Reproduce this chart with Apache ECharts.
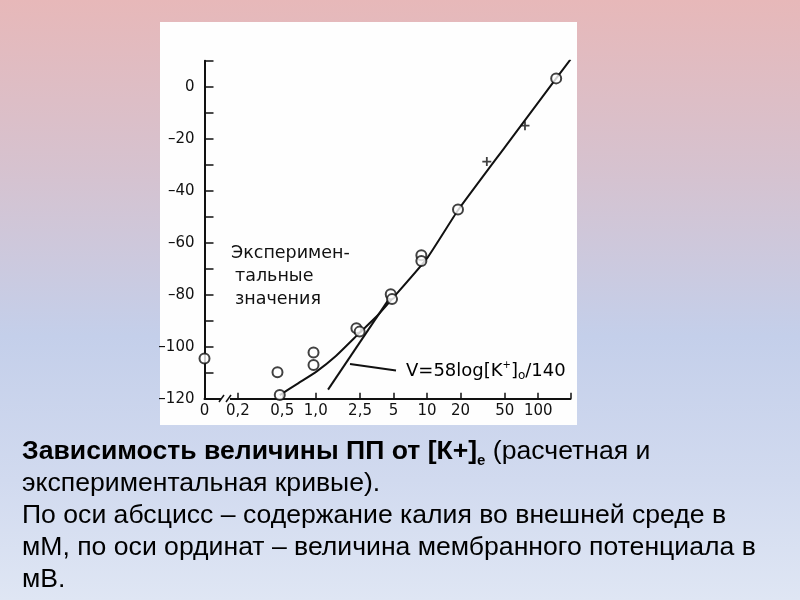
<!DOCTYPE html>
<html><head><meta charset="utf-8">
<script src="https://cdn.jsdelivr.net/npm/echarts@6/dist/echarts.min.js"></script>
<style>
html,body{margin:0;padding:0;width:800px;height:600px;overflow:hidden;}
body{background:linear-gradient(to bottom,#e7b8b9 0%,#d6c2cf 28%,#c4cfea 56%,#d1daef 80%,#dfe6f4 100%);}
#panel{position:absolute;left:160px;top:22px;width:417px;height:403px;background:#fefefe;}
#chart{position:absolute;left:0;top:0;width:800px;height:600px;}
</style></head>
<body><div id="panel"></div><div id="chart"></div>
<script>
// ---- data (concentration in mM, potential in mV) ----
const xTickConc   = [0, 0.2, 0.5, 1.0, 2.5, 5, 10, 20, 50, 100];
const xTickLabels = ['0', '0,2', '0,5', '1,0', '2,5', '5', '10', '20', '50', '100'];
const yTickLabelStep = 20;

const circleConc = [0, 0.453, 0.475, 0.955, 0.955, 2.32, 2.48, 4.72, 4.85, 8.9, 8.9, 19, 145];
const circleMv   = [-104.5, -109.8, -118.6, -102.2, -107, -92.9, -94.2, -79.8, -81.7, -64.8, -67, -47.2, 3.2];

const crossConc = [34.5, 76];
const crossMv   = [-28.8, -15];

const expCurveConc = [0.475, 0.7, 1.0, 1.5, 2.5, 3.5, 5, 10, 19, 50, 145, 195];
const expCurveMv   = [-118.6, -114, -109.8, -103.8, -94.5, -88.5, -81, -66, -47.5, -23.3, 3.2, 10.5];

const theoConc = [1.29, 4.5];
const theoMv   = [-116.5, -82];

// ---- axis setup ----
const X_MIN = -1;      // axis start (broken axis, labelled "0")
const X_MAX = 2.29;
const toX = c => (c === 0 ? X_MIN : Math.log10(c));
const pairs = (cs, vs) => cs.map((c, i) => [toX(c), vs[i]]);

const ink = '#111111';
const tickXs = xTickConc.map(toX).concat([X_MAX]);
const labelXs = xTickConc.map(toX);

const chart = echarts.init(document.getElementById('chart'), null, {renderer: 'canvas'});
chart.setOption({
  animation: false,
  backgroundColor: 'transparent',
  grid: {left: 204.5, right: 229.5, top: 60.7, bottom: 201.3, containLabel: false},
  xAxis: {
    type: 'value', min: X_MIN, max: X_MAX,
    axisLine: {show: true, onZero: false, lineStyle: {color: ink, width: 2}},
    axisTick: {show: true, inside: true, length: 6, customValues: tickXs, lineStyle: {color: ink, width: 1.5}},
    axisLabel: {
      show: true, customValues: labelXs, margin: 5,
      color: '#111', fontFamily: 'DejaVu Sans', fontSize: 15,
      formatter: v => {
        for (let i = 0; i < xTickConc.length; i++) {
          if (Math.abs(toX(xTickConc[i]) - v) < 1e-6) return xTickLabels[i];
        }
        return '';
      }
    },
    splitLine: {show: false}
  },
  yAxis: {
    type: 'value', min: -120, max: 10, interval: 10,
    axisLine: {show: true, onZero: false, lineStyle: {color: ink, width: 2}},
    axisTick: {show: true, inside: true, length: 9, lineStyle: {color: ink, width: 1.5}},
    axisLabel: {
      margin: 10, color: '#111', fontFamily: 'DejaVu Sans', fontSize: 15,
      formatter: v => (v <= 0 && v % yTickLabelStep === 0) ? (v === 0 ? '0' : '\u2013' + (-v)) : ''
    },
    splitLine: {show: false}
  },
  series: [
    {
      type: 'line', name: 'experimental', data: pairs(expCurveConc, expCurveMv),
      smooth: 0.15, showSymbol: false, z: 3,
      lineStyle: {color: ink, width: 2}
    },
    {
      type: 'line', name: 'theoretical', data: pairs(theoConc, theoMv),
      showSymbol: false, z: 3,
      lineStyle: {color: ink, width: 2}
    },
    {
      type: 'scatter', name: 'points', data: pairs(circleConc, circleMv),
      symbol: 'circle', symbolSize: 10, z: 5, clip: false,
      itemStyle: {color: '#ffffff', borderColor: ink, borderWidth: 2}
    },
    {
      type: 'scatter', name: 'crosses', data: pairs(crossConc, crossMv),
      symbol: 'path://M4,0H6V4H10V6H6V10H4V6H0V4H4Z', symbolSize: 9, z: 5,
      itemStyle: {color: ink}
    }
  ],
  graphic: [
    // axis break on the x axis
    {type: 'rect', z: 100, shape: {x: 221, y: 396, width: 9, height: 6}, style: {fill: '#fefefe'}},
    {type: 'line', z: 101, shape: {x1: 219, y1: 402, x2: 224, y2: 395}, style: {stroke: ink, lineWidth: 1.5}},
    {type: 'line', z: 101, shape: {x1: 226, y1: 402, x2: 231, y2: 395}, style: {stroke: ink, lineWidth: 1.5}},
    // annotation
    {type: 'text', z: 100, x: 231, y: 244, style: {text: 'Эксперимен-', font: '17.5px "DejaVu Sans"', fill: '#111'}},
    {type: 'text', z: 100, x: 235, y: 267, style: {text: 'тальные', font: '17.5px "DejaVu Sans"', fill: '#111'}},
    {type: 'text', z: 100, x: 235, y: 290, style: {text: 'значения', font: '17.5px "DejaVu Sans"', fill: '#111'}},
    // formula label with pointer
    {type: 'line', z: 100, shape: {x1: 350, y1: 364, x2: 396, y2: 370.5}, style: {stroke: ink, lineWidth: 1.8}},
    {type: 'text', z: 100, x: 406, y: 360, style: {
      text: '{n|V=58log[K}{sup|+}{n|]}{sub|o}{n|/140}',
      rich: {
        n: {fontFamily: 'DejaVu Sans', fontSize: 18, lineHeight: 22, color: '#111'},
        sup: {fontFamily: 'DejaVu Sans', fontSize: 10, lineHeight: 22, verticalAlign: 'top', color: '#111'},
        sub: {fontFamily: 'DejaVu Sans', fontSize: 12, lineHeight: 12, verticalAlign: 'bottom', color: '#111'}
      }
    }},
    // caption
    {type: 'text', z: 100, x: 22, y: 436, style: {
      text: '{b|Зависимость величины ПП от [К+]}{s|е}{r| (расчетная и}\n' +
            '{r|экспериментальная кривые).}\n' +
            '{r|По оси абсцисс – содержание калия во внешней среде в}\n' +
            '{r|мМ, по оси ординат – величина мембранного потенциала в}\n' +
            '{r|мВ.}',
      rich: {
        b: {fontFamily: '"Liberation Sans", Arial', fontWeight: 'bold', fontSize: 26.6, lineHeight: 32, color: '#111'},
        s: {fontFamily: '"Liberation Sans", Arial', fontWeight: 'bold', fontSize: 15, lineHeight: 13, verticalAlign: 'bottom', color: '#111'},
        r: {fontFamily: '"Liberation Sans", Arial', fontSize: 26.6, lineHeight: 32, color: '#111'}
      }
    }}
  ]
});
</script></body></html>
